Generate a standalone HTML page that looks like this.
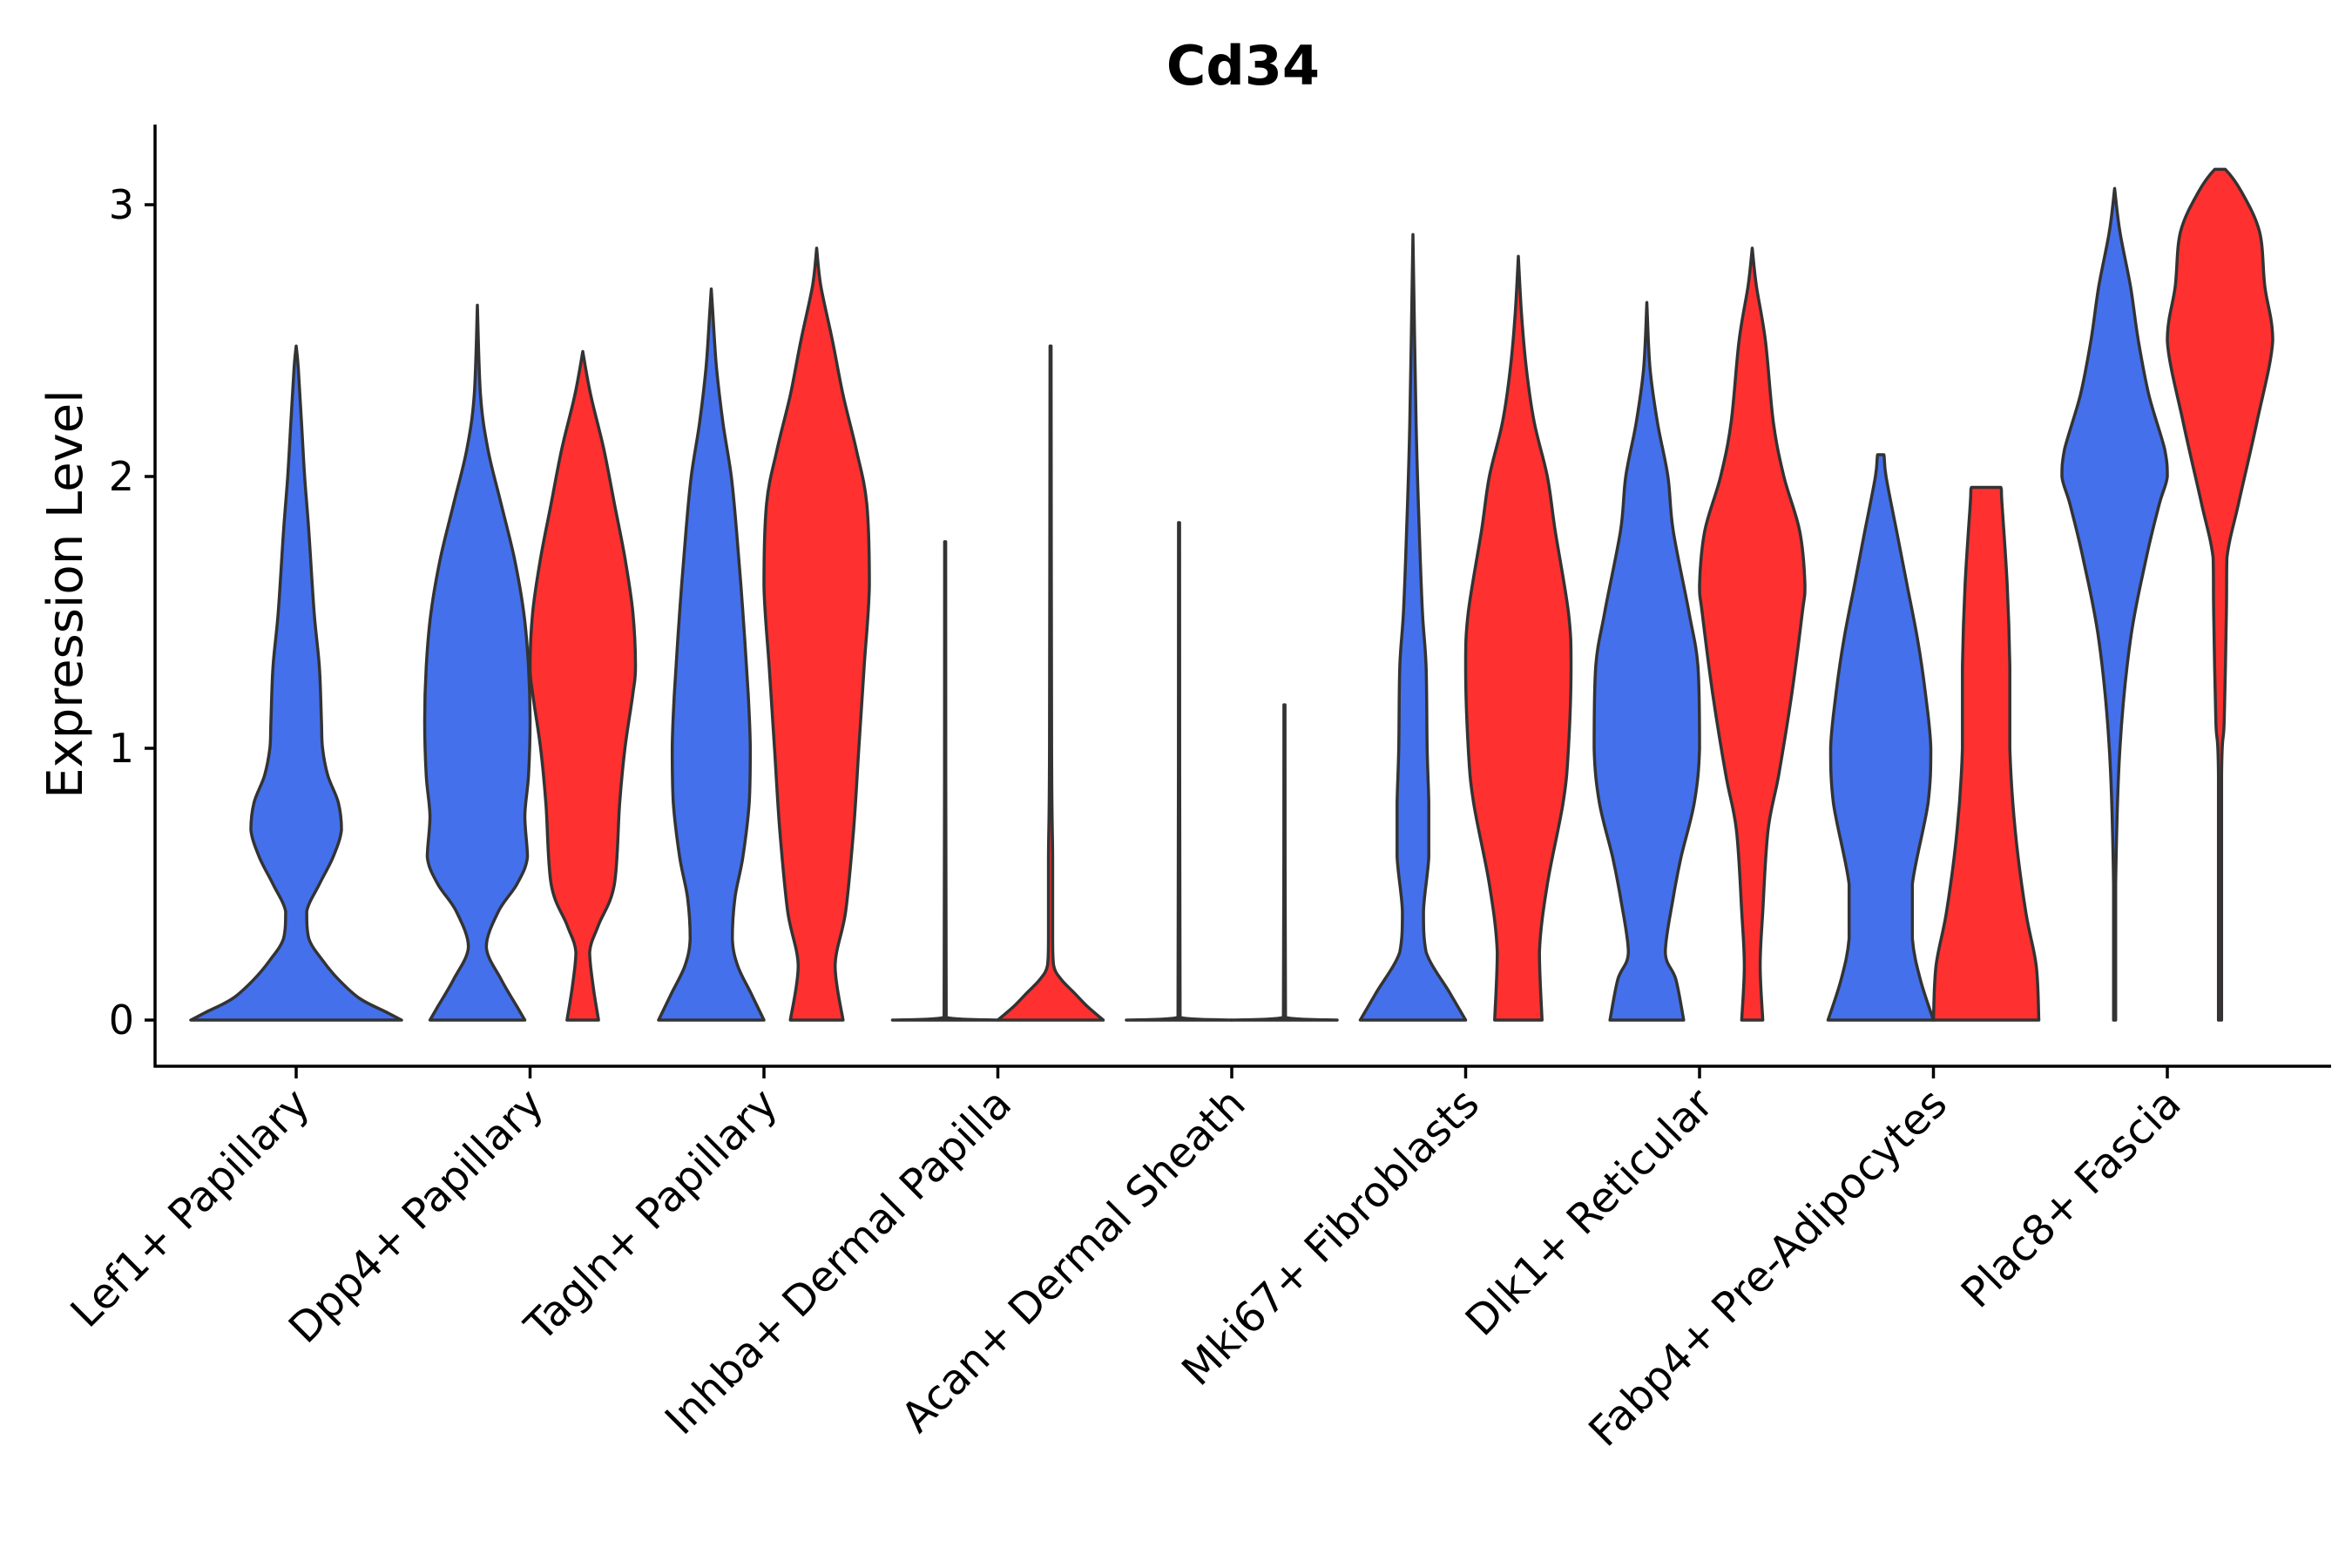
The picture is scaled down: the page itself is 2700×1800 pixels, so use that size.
<!DOCTYPE html>
<html><head><meta charset="utf-8"><style>
html,body{margin:0;padding:0;background:#fff;}
svg{display:block;font-family:"DejaVu Sans","Liberation Sans",sans-serif;}
</style></head><body>
<svg id="chart" width="2700" height="1800" viewBox="0 0 2700 1800">
<text x="1427" y="97" text-anchor="middle" font-size="62" font-weight="bold">Cd34</text>
<g id="violins"></g>
<g id="axes"></g>
</svg>
<script>
const categories = ["Lef1+ Papillary","Dpp4+ Papillary","Tagln+ Papillary","Inhba+ Dermal Papilla","Acan+ Dermal Sheath","Mki67+ Fibroblasts","Dlk1+ Reticular","Fabp4+ Pre-Adipocytes","Plac8+ Fascia"];
const yTicks = [0,1,2,3];
const lef1Levels = [0,0.03,0.08,0.15,0.22,0.3,0.4,0.5,0.6,0.7,0.8,0.9,1.0,1.1,1.3,1.5,1.8,2.0,2.2,2.4,2.48];
const lef1Widths = [1,0.85,0.6,0.4,0.25,0.12,0.1,0.22,0.35,0.43,0.4,0.3,0.25,0.24,0.22,0.17,0.12,0.08,0.05,0.02,0];
const dpp4BLevels = [0,0.05,0.15,0.27,0.4,0.5,0.6,0.75,0.9,1.1,1.3,1.5,1.7,1.9,2.1,2.3,2.63];
const dpp4BWidths = [0.9,0.75,0.45,0.17,0.4,0.75,0.95,0.9,0.97,1,0.97,0.88,0.7,0.45,0.2,0.06,0];
const dpp4RLevels = [0,0.12,0.25,0.35,0.5,0.8,1.0,1.2,1.3,1.5,1.7,1.9,2.1,2.3,2.46];
const dpp4RWidths = [0.3,0.2,0.13,0.3,0.6,0.7,0.8,0.95,1,0.95,0.8,0.6,0.4,0.15,0];
const taglBLevels = [0,0.1,0.2,0.3,0.45,0.6,0.8,1.0,1.2,1.5,1.8,2.0,2.2,2.4,2.6,2.69];
const taglBWidths = [1,0.75,0.5,0.4,0.45,0.6,0.72,0.74,0.7,0.6,0.48,0.38,0.22,0.1,0.03,0];
const taglRLevels = [0,0.2,0.4,0.7,1.0,1.3,1.6,1.9,2.1,2.3,2.5,2.7,2.84];
const taglRWidths = [0.5,0.35,0.55,0.7,0.8,0.9,1,0.95,0.75,0.5,0.3,0.08,0];
const inhbBLevels = [0,0.01,1.76];
const inhbBWidths = [1,0.02,0.01];
const inhbRLevels = [0,0.05,0.1,0.15,0.2,0.3,0.6,1.0,2.48];
const inhbRWidths = [1,0.7,0.45,0.2,0.06,0.04,0.04,0.02,0.01];
const acanBLevels = [0,0.01,1.83];
const acanBWidths = [1,0.02,0.01];
const acanRLevels = [0,0.01,1.16];
const acanRWidths = [1,0.02,0.01];
const mkiBLevels = [0,0.1,0.25,0.4,0.6,0.8,1.0,1.3,1.5,1.8,2.2,2.89];
const mkiBWidths = [1,0.7,0.25,0.2,0.3,0.3,0.27,0.25,0.18,0.12,0.06,0];
const mkiRLevels = [0,0.25,0.5,0.8,1.0,1.3,1.5,1.8,2.0,2.2,2.4,2.6,2.81];
const mkiRWidths = [0.45,0.4,0.55,0.85,0.95,1,0.95,0.7,0.55,0.3,0.15,0.06,0];
const dlkBLevels = [0,0.15,0.25,0.45,0.6,0.8,1.0,1.3,1.5,1.8,2.0,2.2,2.4,2.64];
const dlkBWidths = [0.7,0.55,0.35,0.5,0.65,0.9,1,0.97,0.8,0.5,0.4,0.2,0.06,0];
const dlkRLevels = [0,0.2,0.4,0.7,0.9,1.2,1.5,1.6,1.8,2.0,2.2,2.5,2.7,2.84];
const dlkRWidths = [0.2,0.15,0.2,0.3,0.5,0.75,0.95,1,0.9,0.6,0.4,0.25,0.08,0];
const fabBLevels = [0,0.15,0.3,0.5,0.8,1.0,1.2,1.4,1.6,1.8,2.0,2.08,2.08];
const fabBWidths = [1,0.75,0.6,0.6,0.9,0.95,0.85,0.7,0.5,0.3,0.1,0.06,0];
const fabRLevels = [0,0.2,0.4,0.7,1.0,1.3,1.6,1.9,1.96,1.96];
const fabRWidths = [1,0.95,0.75,0.55,0.45,0.45,0.4,0.3,0.28,0];
const plaBLevels = [0,0.5,1.0,1.4,1.7,1.9,2.0,2.1,2.3,2.5,2.7,2.9,3.06];
const plaBWidths = [0.02,0.02,0.1,0.3,0.6,0.85,1,0.95,0.65,0.45,0.3,0.1,0];
const plaRLevels = [0,0.9,1.1,1.5,1.7,1.9,2.2,2.5,2.7,2.9,3.05,3.13,3.13];
const plaRWidths = [0.03,0.03,0.08,0.12,0.13,0.35,0.7,1,0.85,0.75,0.4,0.1,0];
const violins = [
 [0,0,lef1Levels,lef1Widths],[1,1,dpp4BLevels,dpp4BWidths],[1,2,dpp4RLevels,dpp4RWidths],
 [2,1,taglBLevels,taglBWidths],[2,2,taglRLevels,taglRWidths],[3,1,inhbBLevels,inhbBWidths],
 [3,2,inhbRLevels,inhbRWidths],[4,1,acanBLevels,acanBWidths],[4,2,acanRLevels,acanRWidths],
 [5,1,mkiBLevels,mkiBWidths],[5,2,mkiRLevels,mkiRWidths],[6,1,dlkBLevels,dlkBWidths],
 [6,2,dlkRLevels,dlkRWidths],[7,1,fabBLevels,fabBWidths],[7,2,fabRLevels,fabRWidths],
 [8,1,plaBLevels,plaBWidths],[8,2,plaRLevels,plaRWidths]
];
const NS="http://www.w3.org/2000/svg";
const X0=178, X1=2676, YB=1224, YT=143, step=268.5, cx0=340;
const y=v=>1171-v*312;
const xc=i=>cx0+i*step;
function el(t,a,p){const e=document.createElementNS(NS,t);for(const k in a)e.setAttribute(k,a[k]);p.appendChild(e);return e;}
function clamp(v,a,b){const lo=Math.min(a,b),hi=Math.max(a,b);return Math.max(lo,Math.min(hi,v));}
function smooth(pts){
  let d="M"+pts[0][0].toFixed(1)+","+pts[0][1].toFixed(1);
  for(let i=0;i<pts.length-1;i++){
    const p0=pts[Math.max(0,i-1)],p1=pts[i],p2=pts[i+1],p3=pts[Math.min(pts.length-1,i+2)];
    const c1=[clamp(p1[0]+(p2[0]-p0[0])/6,p1[0],p2[0]),clamp(p1[1]+(p2[1]-p0[1])/6,p1[1],p2[1])];
    const c2=[clamp(p2[0]-(p3[0]-p1[0])/6,p1[0],p2[0]),clamp(p2[1]-(p3[1]-p1[1])/6,p1[1],p2[1])];
    d+="C"+c1[0].toFixed(1)+","+c1[1].toFixed(1)+" "+c2[0].toFixed(1)+","+c2[1].toFixed(1)+" "+p2[0].toFixed(1)+","+p2[1].toFixed(1);
  }
  return d;
}
const vg=document.getElementById('violins');
violins.forEach(v=>{
  const [ci,g,lv,wd]=v;
  const cx = g===0?xc(ci):(g===1?xc(ci)-60.5:xc(ci)+60.5);
  const hw = g===0?121:60.5;
  const right=lv.map((l,k)=>[cx+wd[k]*hw,y(l)]);
  const left=lv.map((l,k)=>[cx-wd[k]*hw,y(l)]).reverse();
  let d=smooth(right);
  d+=smooth(left).replace(/^M/,"L")+"Z";
  const p=el('path',{d:d,fill:g===2?'#FF3030':'#4470EC',stroke:'#333','stroke-width':3.5,'stroke-linejoin':'round'},vg);
  
  
});
const ag=document.getElementById('axes');
const ya=el('line',{x1:X0,y1:YT,x2:X0,y2:YB+1.5,stroke:'#000','stroke-width':3.5},ag);


const xa=el('line',{x1:X0-1.5,y1:YB,x2:X1,y2:YB,stroke:'#000','stroke-width':3.5},ag);


yTicks.forEach(t=>{
  const l=el('line',{x1:X0-12,y1:y(t),x2:X0,y2:y(t),stroke:'#000','stroke-width':3.5},ag);
  
  
  const tx=el('text',{x:X0-24,y:y(t)+16,'text-anchor':'end','font-size':46,fill:'#000'},ag);
  tx.textContent=t;
  
  
});
categories.forEach((c,i)=>{
  const l=el('line',{x1:xc(i),y1:YB,x2:xc(i),y2:YB+14,stroke:'#000','stroke-width':3.5},ag);
  
  
  const tx=el('text',{x:0,y:0,'text-anchor':'end','font-size':48,fill:'#000',transform:'translate('+(xc(i)+18)+','+(YB+46)+') rotate(-45)'},ag);
  tx.textContent=c;
  
  
});
const yt=el('text',{x:0,y:0,'text-anchor':'middle','font-size':56,fill:'#000',transform:'translate(94,682) rotate(-90)'},ag);
yt.textContent='Expression Level';


</script>
</body></html>
